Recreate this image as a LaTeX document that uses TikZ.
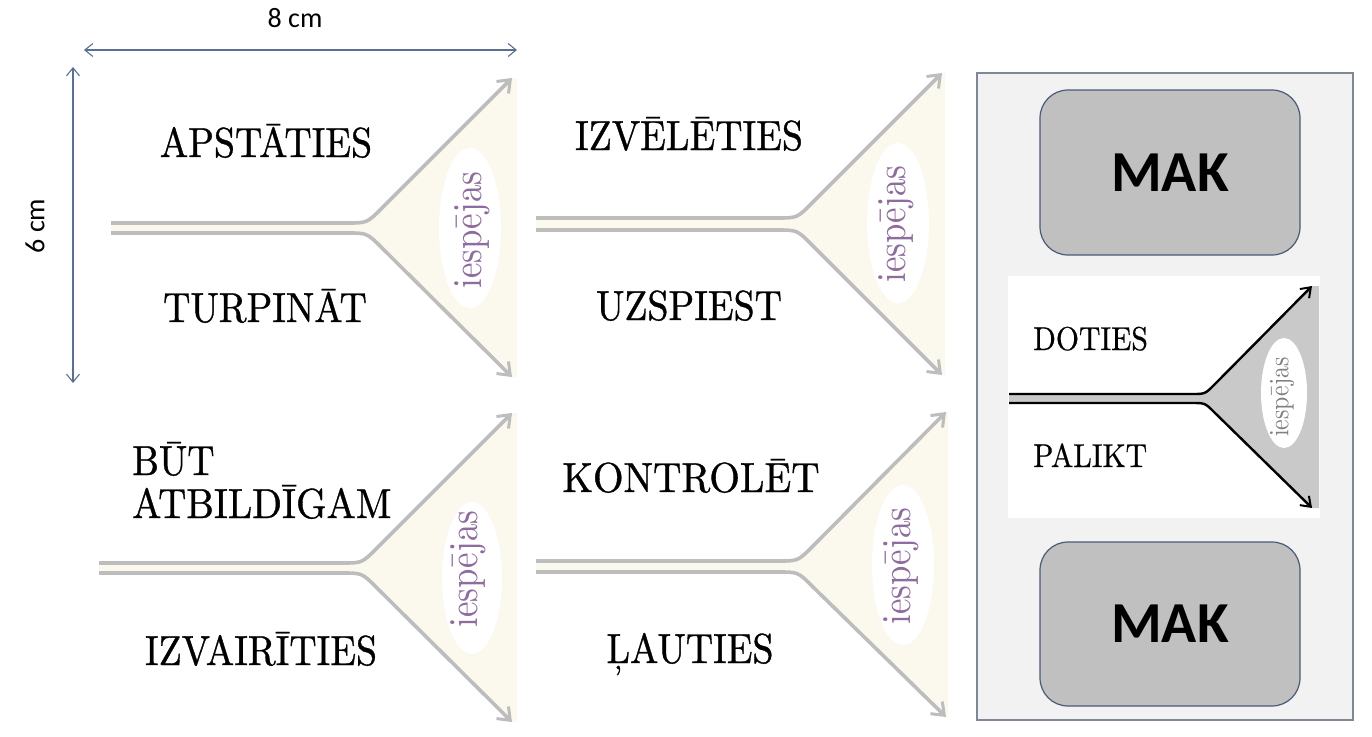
\documentclass[tikz,border=0pt]{standalone}
\usepackage{fontspec}
\usetikzlibrary{arrows.meta}
\newfontfamily\serifc{lmroman10-regular}[Extension=.otf,FakeStretch=0.9,FakeBold=0.8]
\newfontfamily\serifd{lmroman10-regular}[Extension=.otf,FakeStretch=0.9,FakeBold=0.6]
\newfontfamily\serifo{lmroman10-regular}[Extension=.otf,FakeStretch=0.85]
\newfontfamily\calib{Carlito}
\definecolor{cream}{HTML}{FBF8EE}
\definecolor{lgray}{HTML}{BDBDBD}
\definecolor{purp}{HTML}{8E6C9E}
\definecolor{dimc}{HTML}{5A7090}
\definecolor{boxfill}{HTML}{C0C0C0}
\definecolor{boxline}{HTML}{4A5A75}
\definecolor{panelbg}{HTML}{F2F2F2}
\definecolor{panelline}{HTML}{7F8897}
\definecolor{fangray}{HTML}{C9C9C9}
% #1 prefix, #2 x0, #3 yu, #4 yl, #5 xc, #6 xt, #7 ytu, #8 ytl, #9 xr
\newcommand\fancoords[9]{%
  \coordinate (#1s1) at (#2,#3);
  \coordinate (#1c1) at (#5,#3);
  \coordinate (#1t1) at (#6,#7);
  \coordinate (#1s2) at (#2,#4);
  \coordinate (#1c2) at (#5,#4);
  \coordinate (#1t2) at (#6,#8);
  \coordinate (#1r1) at (#9,#7);
  \coordinate (#1r2) at (#9,#8);
}
% #1 prefix, #2 fill style, #3 line style, #4 radius
\newcommand\drawfan[4]{%
  \fill[#2] (#1s1) -- ([xshift=-#4]#1c1) .. controls (#1c1) .. ([xshift={0.7071*#4},yshift={0.7071*#4}]#1c1) -- (#1t1) -- (#1r1) -- (#1r2) -- (#1t2) -- ([xshift={0.7071*#4},yshift={-0.7071*#4}]#1c2) .. controls (#1c2) .. ([xshift=-#4]#1c2) -- (#1s2) -- cycle;
  \draw[#3] (#1s1) -- ([xshift=-#4]#1c1) .. controls (#1c1) .. ([xshift={0.7071*#4},yshift={0.7071*#4}]#1c1) -- (#1t1);
  \draw[#3] (#1s2) -- ([xshift=-#4]#1c2) .. controls (#1c2) .. ([xshift={0.7071*#4},yshift={-0.7071*#4}]#1c2) -- (#1t2);
}
\tikzset{
  creamfan/.style={fill=cream},
  grayline/.style={draw=lgray, line width=3.6pt, -{Straight Barb[length=11pt,width=17pt,line width=3pt]}},
  grayfan/.style={fill=fangray},
  blackline/.style={draw=black, line width=2.4pt, -{Straight Barb[length=9pt,width=13pt,line width=2pt]}},
  word/.style={font=\serifc\fontsize{42}{44}\selectfont, text=black, inner sep=0pt},
  smallword/.style={font=\serifd\fontsize{33}{36}\selectfont, text=black, inner sep=0pt, anchor=base west},
  opt/.style={font=\serifo\fontsize{41}{44}\selectfont, text=purp, rotate=90, inner sep=0pt},
  optgray/.style={font=\serifo\fontsize{28}{30}\selectfont, text=black!50, rotate=90, inner sep=0pt},
  hole/.style={fill=white, draw=none},
  dim/.style={draw=dimc, line width=1.1pt, {Straight Barb[length=8pt,width=13pt,line width=1.1pt]}-{Straight Barb[length=8pt,width=13pt,line width=1.1pt]}},
  dimlabel/.style={font=\calib\fontsize{28}{30}\selectfont, text=black, inner sep=0pt},
  makbox/.style={fill=boxfill, draw=boxline, line width=1.2pt, rounded corners=28pt},
  maktext/.style={font=\calib\bfseries\fontsize{58}{60}\selectfont, text=black}
}
\begin{document}
\begin{tikzpicture}[x=1pt,y=-1pt]
\useasboundingbox (0,0) rectangle (1372,736);
\fill[white] (0,0) rectangle (1372,736);

% dimension arrows
\coordinate (hL) at (84,50);
\coordinate (hR) at (517,50);
\coordinate (vT) at (73,67);
\coordinate (vB) at (73,383);
\draw[dim] (hL) -- (hR);
\draw[dim] (vT) -- (vB);
\node[dimlabel] (w8) at (295,18) {8 cm};
\node[dimlabel, rotate=90] (h6) at (35,226) {6 cm};

% panel 1
\fancoords{a}{111}{223}{233}{367}{512}{78}{377}{517}
\drawfan{a}{creamfan}{grayline}{20pt}
\fill[hole] (470,228) ellipse [x radius=31, y radius=80];
\node[opt] (aopt) at (472,230) {iespējas};
\node[word, anchor=base] (a1) at (266,157) {APSTĀTIES};
\node[word, anchor=base] (a2) at (265,322) {TURPINĀT};

% panel 2
\fancoords{b}{536}{218}{230}{797}{942}{73}{375}{945}
\drawfan{b}{creamfan}{grayline}{20pt}
\fill[hole] (898,223) ellipse [x radius=31, y radius=80];
\node[opt] (bopt) at (896,224) {iespējas};
\node[word, anchor=base] (b1) at (689,150) {IZVĒLĒTIES};
\node[word, anchor=base] (b2) at (689,320) {UZSPIEST};

% panel 3
\fancoords{c}{99}{563}{573}{362}{512}{413}{722}{517}
\drawfan{c}{creamfan}{grayline}{20pt}
\fill[hole] (472,578) ellipse [x radius=30, y radius=76];
\node[opt] (copt) at (468,569) {iespējas};
\node[word, anchor=base west] (c1) at (132,475) {BŪT};
\node[word, anchor=base west, xscale=1.03, transform shape] (c2) at (132,518) {ATBILDĪGAM};
\node[word, anchor=base] (c3) at (261,665) {IZVAIRĪTIES};

% panel 4
\fancoords{d}{536}{561}{572}{798}{946}{412}{717}{948}
\drawfan{d}{creamfan}{grayline}{20pt}
\fill[hole] (903,565) ellipse [x radius=31, y radius=80];
\node[opt] (dopt) at (901,566) {iespējas};
\node[word, anchor=base, xscale=1.04, transform shape] (d1) at (691,492) {KONTROLĒT};
\node[word, anchor=base] (d2) at (690,663) {ĻAUTIES};

% right panel
\node[fill=panelbg, draw=panelline, line width=1.2pt, minimum width=376, minimum height=647, inner sep=0pt] (panel) at (1165,396.5) {};
\node[makbox, minimum width=260, minimum height=165, inner sep=0pt] (mak1) at (1170,172.5) {};
\node[maktext] (mak1t) at (mak1.center) {MAK};
\node[makbox, minimum width=260, minimum height=164, inner sep=0pt] (mak2) at (1170,624) {};
\node[maktext] (mak2t) at (mak2.center) {MAK};
\fill[white] (1008,276) rectangle (1320,518);
\fancoords{e}{1009}{394}{403}{1205}{1312}{286}{508}{1319}
\drawfan{e}{grayfan}{blackline}{13pt}
\fill[hole] (1284,393) ellipse [x radius=23, y radius=55];
\node[optgray] (eopt) at (1282,397) {iespējas};
\node[smallword] (e1) at (1033,350) {DOTIES};
\node[smallword] (e2) at (1033,467) {PALIKT};
\end{tikzpicture}
\end{document}
